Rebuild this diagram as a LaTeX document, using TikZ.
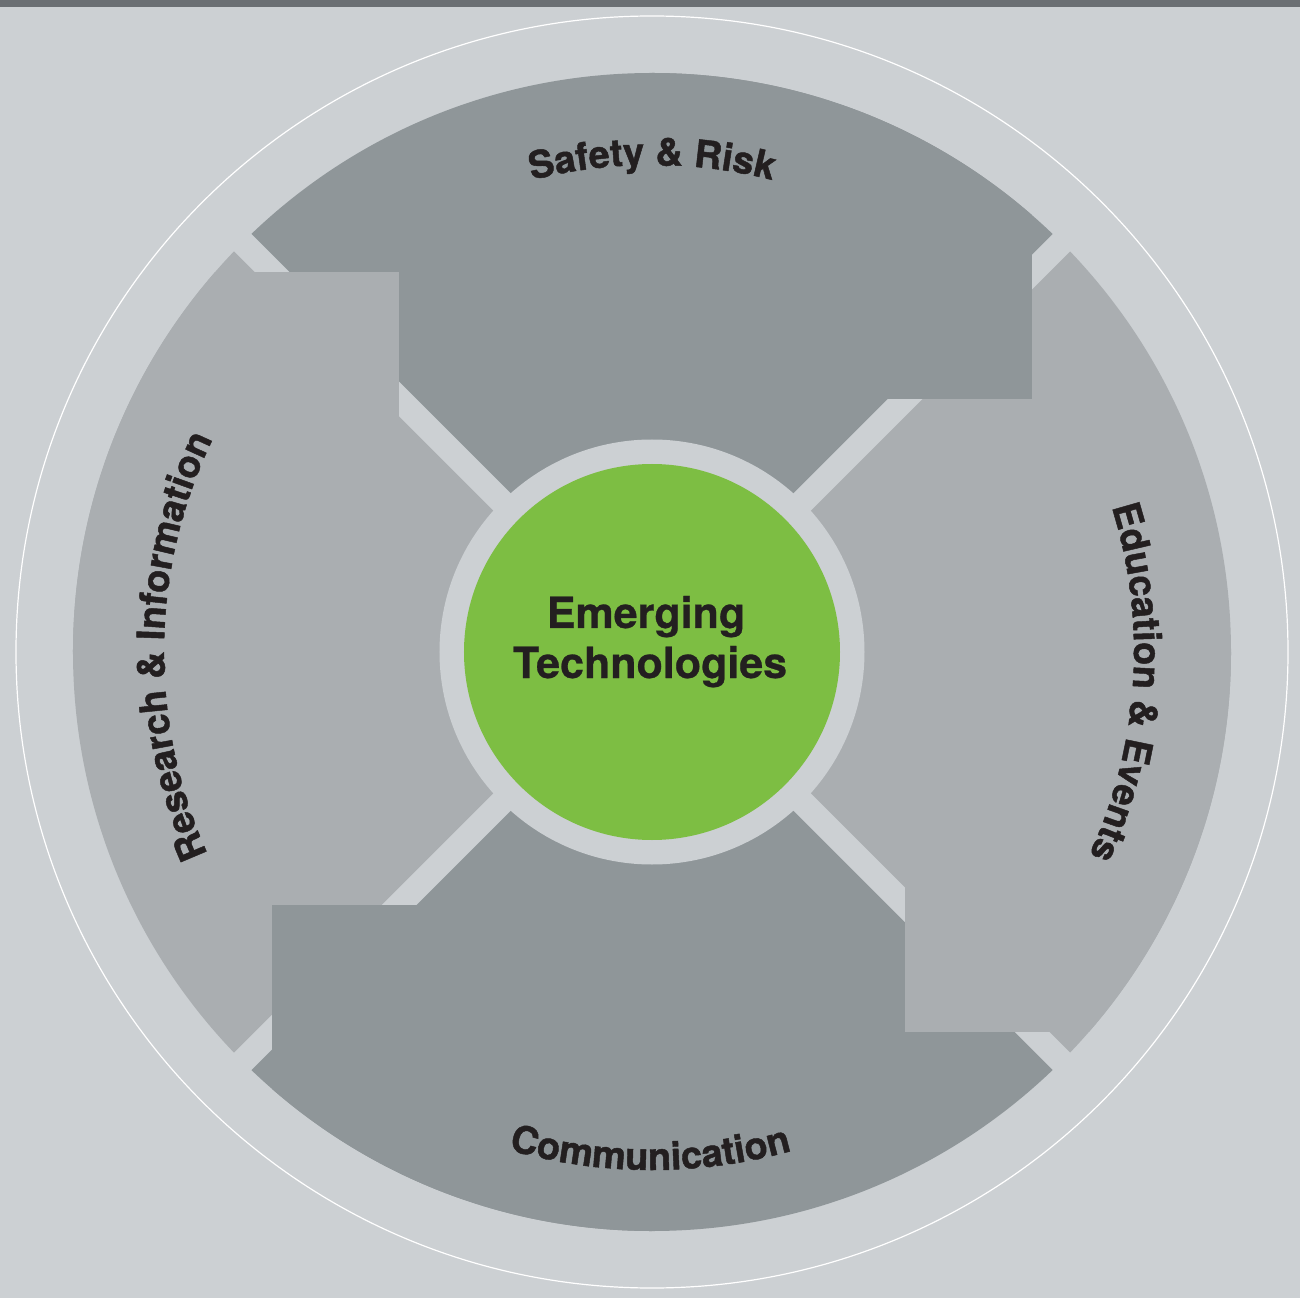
\documentclass[tikz,border=0pt]{standalone}
\usepackage{fontspec}
\setmainfont{TeX Gyre Heros}
\newfontfamily\heavyfont{TeX Gyre Heros}[BoldFeatures={FakeBold=1.2}]
\newfontfamily\titlefam{TeX Gyre Heros}[BoldFeatures={FakeBold=0.6}]
\usetikzlibrary{decorations.text}
\definecolor{bgc}{HTML}{CCD0D3}
\definecolor{barc}{HTML}{6B6F73}
\definecolor{darkseg}{HTML}{8F9699}
\definecolor{lightseg}{HTML}{AAAEB1}
\definecolor{greenc}{HTML}{7DBE43}
\definecolor{ink}{HTML}{231F20}
\newcommand\labfont{\heavyfont\fontsize{38}{40}\selectfont\bfseries}
\begin{document}
\begin{tikzpicture}[x=1pt,y=1pt,
  title/.style={text=ink, font=\titlefam\fontsize{43}{50}\selectfont\bfseries, inner sep=0},
  arclabel/.style={decorate, decoration={text along path, text align=center, text color=ink}},
  darkfill/.style={fill=darkseg},
  lightfill/.style={fill=lightseg}]
\useasboundingbox (-652,-646) rectangle (648,652);
\fill[bgc] (-652,-646) rectangle (648,652);
\fill[barc] (-652,645) rectangle (648,652);
\draw[white, line width=1.2pt] (0,0) circle[radius=636];
\begin{scope}
\clip (0,0) circle[radius=579];
% wedges
\fill[darkfill] (0,17.5) -- (700,717.5) -- (-700,717.5) -- cycle;
\fill[lightfill] (17.5,0) -- (717.5,700) -- (717.5,-700) -- cycle;
\fill[darkfill] (0,-17.5) -- (700,-717.5) -- (-700,-717.5) -- cycle;
\fill[lightfill] (-17.5,0) -- (-717.5,700) -- (-717.5,-700) -- cycle;
% interlocking blocks
\fill[darkfill] (0,253) rectangle (380,700);
\fill[lightfill] (253,-380) rectangle (700,0);
\fill[darkfill] (-380,-700) rectangle (0,-253);
\fill[lightfill] (-700,0) rectangle (-253,380);
\end{scope}
\node[circle, fill=bgc, minimum size=425, inner sep=0] (ring) at (0,0) {};
\node[circle, fill=greenc, minimum size=376, inner sep=0] (core) at (0,0) {};
\node[title, anchor=base] (t1) at (-6,24) {Emerging};
\node[title, anchor=base] (t2) at (-2,-26) {Technologies};
% curved labels
\path[arclabel, decoration={text={|\labfont|Safety {\&} Risk}}]
  (130:487) arc[start angle=130, end angle=50, radius=487];
\path[arclabel, decoration={text={|\labfont|Communication}}]
  (229.8:518) arc[start angle=229.8, end angle=309.8, radius=518];
\path[arclabel, decoration={text={|\labfont|Research {\&} Information}}]
  (219.3:488) arc[start angle=219.3, end angle=139.3, radius=488];
\path[arclabel, decoration={text={|\labfont|Education {\&} Events}}]
  (36.3:482) arc[start angle=36.3, end angle=-43.7, radius=482];
\end{tikzpicture}
\end{document}
